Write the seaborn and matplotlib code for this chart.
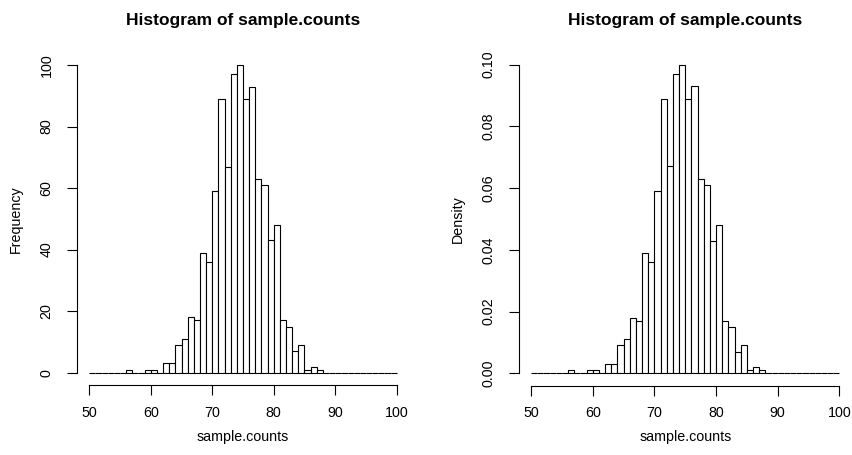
import numpy as np
import pandas as pd
import matplotlib
matplotlib.use("Agg")
import matplotlib.pyplot as plt
import seaborn as sns

# Binned sample counts: left edge of each unit-wide bin and its frequency
bin_lefts = [56, 59, 60, 62, 63, 64, 65, 66, 67, 68, 69, 70, 71, 72, 73, 74,
             75, 76, 77, 78, 79, 80, 81, 82, 83, 84, 85, 86, 87]
frequencies = [1, 1, 1, 3, 3, 9, 11, 18, 17, 39, 36, 59, 89, 67, 97, 100,
               89, 93, 63, 61, 43, 48, 17, 15, 7, 9, 1, 2, 1]
break_points = list(range(50, 101))
x_ticks = [50, 60, 70, 80, 90, 100]
freq_ticks = [0, 20, 40, 60, 80, 100]
dens_ticks = [0.00, 0.02, 0.04, 0.06, 0.08, 0.10]
dens_labels = ["0.00", "0.02", "0.04", "0.06", "0.08", "0.10"]

df = pd.DataFrame({"sample.counts": np.array(bin_lefts) + 0.5,
                   "n": frequencies})

sns.set_theme(style="white")
plt.rcParams["font.family"] = ["Liberation Sans", "DejaVu Sans"]
plt.rcParams.update({"text.color": "black", "axes.labelcolor": "black",
                     "xtick.color": "black", "ytick.color": "black"})

W, H = 852, 455
fig = plt.figure(figsize=(W / 100, H / 100), dpi=100)


def panel(rect, stat, yticks, ylabels, ylabel, ymax):
    ax = fig.add_axes(rect)
    sns.histplot(data=df, x="sample.counts", weights="n", bins=break_points,
                 stat=stat, ax=ax, fill=True, color="white",
                 edgecolor="black", linewidth=0.8, alpha=1)
    pad = 0.04 * ymax
    ax.set_xlim(48, 102)
    ax.set_ylim(-pad, ymax + pad)
    for s in ("top", "right"):
        ax.spines[s].set_visible(False)
    for s in ("left", "bottom"):
        ax.spines[s].set_color("black")
        ax.spines[s].set_linewidth(0.8)
    ax.spines["left"].set_bounds(0, ymax)
    ax.spines["bottom"].set_bounds(50, 100)
    ax.set_xticks(x_ticks)
    ax.set_xticklabels([str(t) for t in x_ticks], fontsize=10.3)
    ax.set_yticks(yticks)
    ax.set_yticklabels(ylabels, fontsize=10.3, rotation=90, va="center")
    ax.tick_params(axis="both", direction="out", length=7, width=0.8,
                   colors="black", pad=8, left=True, bottom=True)
    ax.tick_params(axis="y", pad=10)
    ax.set_xlabel("sample.counts", fontsize=10.3, labelpad=7, color="black")
    ax.set_ylabel(ylabel, fontsize=10.3, labelpad=12, color="black")
    ax.set_title("Histogram of sample.counts", fontsize=12.5,
                 fontweight="bold", pad=20, color="black")
    ax.grid(False)
    return ax


panel([77 / W, 70 / H, 332 / W, 332.3 / H], "count", freq_ticks,
      [str(t) for t in freq_ticks], "Frequency", 100)
panel([518.7 / W, 69.4 / H, 333 / W, 333.3 / H], "density", dens_ticks,
      dens_labels, "Density", 0.10)

fig.savefig("out.png", dpi=100)
